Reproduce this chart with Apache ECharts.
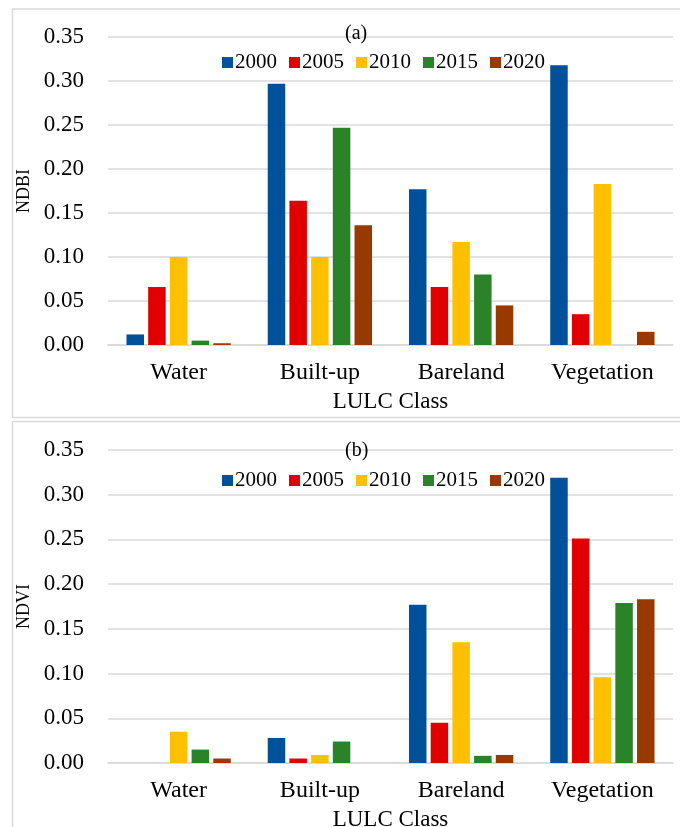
<!DOCTYPE html>
<html>
<head>
<meta charset="utf-8">
<title>NDBI / NDVI by LULC class</title>
<script src="https://cdn.jsdelivr.net/npm/echarts@6/dist/echarts.min.js"></script>
<style>
  html, body { margin: 0; padding: 0; background: #fff; }
  #chartDiv { width: 680px; height: 827px; }
</style>
</head>
<body>
<div id="chartDiv"></div>
<script>
var classes = ['Water', 'Built-up', 'Bareland', 'Vegetation'];
var years = ['2000', '2005', '2010', '2015', '2020'];
var yearColors = ['#00519a', '#e00000', '#ffc000', '#2b8329', '#983a00'];

// (a) NDBI
var ndbi2000 = [0.012, 0.297, 0.177, 0.318];
var ndbi2005 = [0.066, 0.164, 0.066, 0.035];
var ndbi2010 = [0.100, 0.100, 0.117, 0.183];
var ndbi2015 = [0.005, 0.247, 0.080, 0];
var ndbi2020 = [0.002, 0.136, 0.045, 0.015];

// (b) NDVI
var ndvi2000 = [0, 0.028, 0.177, 0.319];
var ndvi2005 = [0, 0.005, 0.045, 0.251];
var ndvi2010 = [0.035, 0.009, 0.135, 0.096];
var ndvi2015 = [0.015, 0.024, 0.008, 0.179];
var ndvi2020 = [0.005, 0, 0.009, 0.183];

var ndbiData = [ndbi2000, ndbi2005, ndbi2010, ndbi2015, ndbi2020];
var ndviData = [ndvi2000, ndvi2005, ndvi2010, ndvi2015, ndvi2020];

var serif = 'Liberation Serif';
var gridGray = '#d9d9d9';

function makeXAxis(idx) {
    return {
        type: 'category',
        gridIndex: idx,
        data: classes,
        name: 'LULC Class',
        nameLocation: 'middle',
        nameGap: 45,
        nameTextStyle: { fontFamily: serif, fontSize: 23, color: '#000' },
        axisLine: { lineStyle: { color: gridGray, width: 1.5 } },
        axisTick: { show: false },
        axisLabel: { fontFamily: serif, fontSize: 24, color: '#000', margin: 16 }
    };
}

function makeYAxis(idx, name) {
    return {
        type: 'value',
        gridIndex: idx,
        min: 0,
        max: 0.35,
        interval: 0.05,
        name: name,
        nameLocation: 'middle',
        nameGap: 70,
        nameTextStyle: { fontFamily: serif, fontSize: 18, color: '#000' },
        axisLine: { show: false },
        axisTick: { show: false },
        axisLabel: {
            fontFamily: serif, fontSize: 23, color: '#000', margin: 24,
            formatter: function (v) { return v.toFixed(2); }
        },
        splitLine: { lineStyle: { color: gridGray, width: 1.5 } }
    };
}

function makeLegend(top) {
    return {
        data: years,
        left: 222,
        top: top,
        padding: 0,
        icon: 'rect',
        itemWidth: 11,
        itemHeight: 11,
        itemGap: 12,
        textStyle: { fontFamily: serif, fontSize: 21, color: '#000', padding: [0, 0, 0, -3] }
    };
}

var series = [];
for (var g = 0; g < 2; g++) {
    var src = g === 0 ? ndbiData : ndviData;
    for (var i = 0; i < years.length; i++) {
        series.push({
            name: years[i],
            type: 'bar',
            xAxisIndex: g,
            yAxisIndex: g,
            barWidth: 17.5,
            barGap: '24%',
            itemStyle: { color: yearColors[i] },
            data: src[i]
        });
    }
}

var myChart = echarts.init(document.getElementById('chartDiv'));

var option = {
    backgroundColor: '#fff',
    animation: false,
    title: [
        { text: '(a)', left: 345, top: 24, padding: 0,
          textStyle: { fontFamily: serif, fontSize: 20, fontWeight: 'normal', color: '#000' } },
        { text: '(b)', left: 345, top: 441, padding: 0,
          textStyle: { fontFamily: serif, fontSize: 20, fontWeight: 'normal', color: '#000' } }
    ],
    legend: [makeLegend(52), makeLegend(470)],
    grid: [
        { left: 108, right: 7, top: 37, height: 308, outerBoundsMode: 'none' },
        { left: 108, right: 7, top: 450, height: 313, outerBoundsMode: 'none' }
    ],
    xAxis: [makeXAxis(0), makeXAxis(1)],
    yAxis: [makeYAxis(0, 'NDBI'), makeYAxis(1, 'NDVI')],
    // panel frames
    graphic: [
        { type: 'rect', silent: true, z: -1,
          shape: { x: 12.5, y: 9, width: 680, height: 408.5 },
          style: { fill: null, stroke: gridGray, lineWidth: 1.5 } },
        { type: 'rect', silent: true, z: -1,
          shape: { x: 12.5, y: 421.5, width: 680, height: 420 },
          style: { fill: null, stroke: gridGray, lineWidth: 1.5 } }
    ],
    series: series
};

myChart.setOption(option);
window.addEventListener('resize', function () {
    myChart.resize();
});
</script>
</body>
</html>
